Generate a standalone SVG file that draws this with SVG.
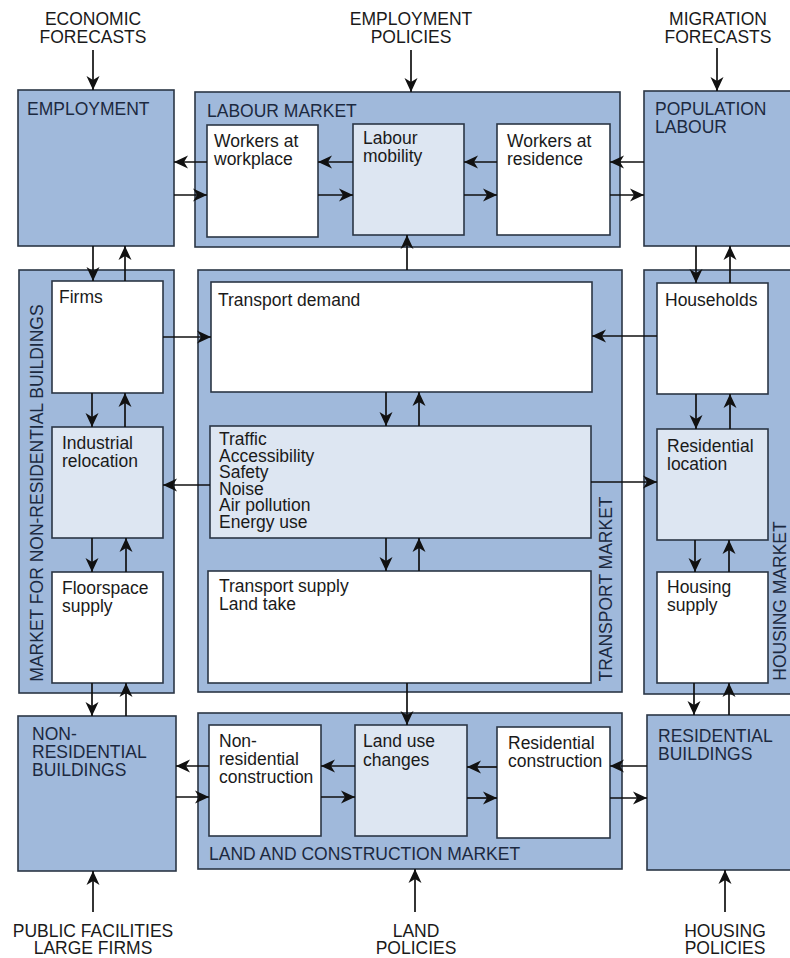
<svg xmlns="http://www.w3.org/2000/svg" width="790" height="958" viewBox="0 0 790 958">
<defs>
<marker id="ah" markerUnits="userSpaceOnUse" markerWidth="15" markerHeight="15" refX="14" refY="7" orient="auto">
<path d="M0,0.5 L14,7 L0,13.5 L4,7 z" fill="#111"/>
</marker>
<style>
.outer{fill:#a0b9db;stroke:#2b3645;stroke-width:1.6}
.white{fill:#ffffff;stroke:#2b3645;stroke-width:1.6}
.light{fill:#dde6f2;stroke:#2b3645;stroke-width:1.6}
text{font-family:"Liberation Sans",Arial,sans-serif;font-size:17.5px;fill:#1a1a1a}
.cap{fill:#1c2940}
.ext{fill:#1a1a1a}
.mid{text-anchor:middle}
.c line{stroke:#111;stroke-width:1.7;marker-end:url(#ah)}
</style>
</defs>
<rect width="790" height="958" fill="#ffffff"/>

<g id="economic-forecasts"><text class="ext mid" y="25"><tspan x="93">ECONOMIC</tspan><tspan x="93" dy="18">FORECASTS</tspan></text></g>
<g id="employment-policies"><text class="ext mid" y="25"><tspan x="411">EMPLOYMENT</tspan><tspan x="411" dy="18">POLICIES</tspan></text></g>
<g id="migration-forecasts"><text class="ext mid" y="25"><tspan x="718">MIGRATION</tspan><tspan x="718" dy="18">FORECASTS</tspan></text></g>

<g id="employment"><rect class="outer" x="18" y="90" width="156" height="156"/><text class="cap" x="27" y="115">EMPLOYMENT</text></g>
<g id="labour-market"><rect class="outer" x="195" y="92" width="425" height="155"/><text class="cap" x="207" y="117">LABOUR MARKET</text></g>
<g id="workers-at-workplace"><rect class="white" x="207" y="125" width="111" height="112"/><text y="147"><tspan x="214">Workers at</tspan><tspan x="214" dy="18">workplace</tspan></text></g>
<g id="labour-mobility"><rect class="light" x="353" y="124" width="111" height="111"/><text y="144"><tspan x="363">Labour</tspan><tspan x="363" dy="18">mobility</tspan></text></g>
<g id="workers-at-residence"><rect class="white" x="497" y="124" width="113" height="111"/><text y="147"><tspan x="507">Workers at</tspan><tspan x="507" dy="18">residence</tspan></text></g>
<g id="population-labour"><rect class="outer" x="644" y="91" width="150" height="155"/><text class="cap" y="115"><tspan x="655">POPULATION</tspan><tspan x="655" dy="18">LABOUR</tspan></text></g>

<g id="market-non-residential"><rect class="outer" x="19" y="270" width="155" height="423"/><text class="cap mid" transform="translate(43,493) rotate(-90)">MARKET FOR NON-RESIDENTIAL BUILDINGS</text></g>
<g id="firms"><rect class="white" x="52" y="281" width="111" height="112"/><text x="59" y="303">Firms</text></g>
<g id="industrial-relocation"><rect class="light" x="52" y="427" width="111" height="111"/><text y="449"><tspan x="62">Industrial</tspan><tspan x="62" dy="18">relocation</tspan></text></g>
<g id="floorspace-supply"><rect class="white" x="52" y="572" width="111" height="111"/><text y="594"><tspan x="62">Floorspace</tspan><tspan x="62" dy="18">supply</tspan></text></g>

<g id="transport-market"><rect class="outer" x="198" y="270" width="424" height="422"/><text class="cap mid" transform="translate(612,589) rotate(-90)">TRANSPORT MARKET</text></g>
<g id="transport-demand"><rect class="white" x="211" y="282" width="381" height="110"/><text x="218" y="306">Transport demand</text></g>
<g id="traffic"><rect class="light" x="210" y="426" width="381" height="112"/><text y="445"><tspan x="219">Traffic</tspan><tspan x="219" dy="16.5">Accessibility</tspan><tspan x="219" dy="16.5">Safety</tspan><tspan x="219" dy="16.5">Noise</tspan><tspan x="219" dy="16.5">Air pollution</tspan><tspan x="219" dy="16.5">Energy use</tspan></text></g>
<g id="transport-supply"><rect class="white" x="208" y="571" width="383" height="112"/><text y="592"><tspan x="219">Transport supply</tspan><tspan x="219" dy="18">Land take</tspan></text></g>

<g id="housing-market"><rect class="outer" x="644" y="270" width="150" height="424"/><text class="cap mid" transform="translate(786,601) rotate(-90)">HOUSING MARKET</text></g>
<g id="households"><rect class="white" x="657" y="283" width="111" height="111"/><text x="665" y="306">Households</text></g>
<g id="residential-location"><rect class="light" x="657" y="429" width="111" height="111"/><text y="452"><tspan x="667">Residential</tspan><tspan x="667" dy="18">location</tspan></text></g>
<g id="housing-supply"><rect class="white" x="657" y="572" width="111" height="111"/><text y="593"><tspan x="667">Housing</tspan><tspan x="667" dy="18">supply</tspan></text></g>

<g id="non-residential-buildings"><rect class="outer" x="18" y="716" width="158" height="155"/><text class="cap" y="740"><tspan x="32">NON-</tspan><tspan x="32" dy="18">RESIDENTIAL</tspan><tspan x="32" dy="18">BUILDINGS</tspan></text></g>
<g id="land-construction-market"><rect class="outer" x="198" y="713" width="424" height="156"/><text class="cap" x="209" y="860">LAND AND CONSTRUCTION MARKET</text></g>
<g id="non-residential-construction"><rect class="white" x="209" y="725" width="112" height="111"/><text y="747"><tspan x="219">Non-</tspan><tspan x="219" dy="18">residential</tspan><tspan x="219" dy="18">construction</tspan></text></g>
<g id="land-use-changes"><rect class="light" x="355" y="725" width="112" height="111"/><text y="747"><tspan x="363">Land use</tspan><tspan x="363" dy="19">changes</tspan></text></g>
<g id="residential-construction"><rect class="white" x="497" y="727" width="113" height="111"/><text y="749"><tspan x="508">Residential</tspan><tspan x="508" dy="18">construction</tspan></text></g>
<g id="residential-buildings"><rect class="outer" x="647" y="715" width="147" height="155"/><text class="cap" y="742"><tspan x="658">RESIDENTIAL</tspan><tspan x="658" dy="18">BUILDINGS</tspan></text></g>

<g id="public-facilities"><text class="ext mid" y="937"><tspan x="93">PUBLIC FACILITIES</tspan><tspan x="93" dy="17">LARGE FIRMS</tspan></text></g>
<g id="land-policies"><text class="ext mid" y="937"><tspan x="416">LAND</tspan><tspan x="416" dy="17">POLICIES</tspan></text></g>
<g id="housing-policies"><text class="ext mid" y="937"><tspan x="725">HOUSING</tspan><tspan x="725" dy="17">POLICIES</tspan></text></g>

<g id="connectors" class="c">
<line x1="93" y1="50" x2="93" y2="90"/>
<line x1="411" y1="50" x2="411" y2="92"/>
<line x1="717" y1="48" x2="717" y2="91"/>
<line x1="207" y1="162" x2="174" y2="162"/>
<line x1="174" y1="195" x2="207" y2="195"/>
<line x1="353" y1="162" x2="318" y2="162"/>
<line x1="318" y1="195" x2="353" y2="195"/>
<line x1="497" y1="162" x2="464" y2="162"/>
<line x1="464" y1="195" x2="497" y2="195"/>
<line x1="644" y1="162" x2="610" y2="162"/>
<line x1="610" y1="195" x2="644" y2="195"/>
<line x1="407" y1="270" x2="407" y2="235"/>
<line x1="93" y1="246" x2="93" y2="281"/>
<line x1="125" y1="281" x2="125" y2="246"/>
<line x1="92" y1="393" x2="92" y2="427"/>
<line x1="125" y1="427" x2="125" y2="393"/>
<line x1="92" y1="538" x2="92" y2="572"/>
<line x1="126" y1="572" x2="126" y2="538"/>
<line x1="92" y1="683" x2="92" y2="716"/>
<line x1="126" y1="716" x2="126" y2="683"/>
<line x1="163" y1="337" x2="211" y2="337"/>
<line x1="210" y1="485" x2="163" y2="485"/>
<line x1="386" y1="392" x2="386" y2="426"/>
<line x1="419" y1="426" x2="419" y2="392"/>
<line x1="386" y1="538" x2="386" y2="571"/>
<line x1="419" y1="571" x2="419" y2="538"/>
<line x1="657" y1="336" x2="592" y2="336"/>
<line x1="591" y1="482" x2="657" y2="482"/>
<line x1="696" y1="246" x2="696" y2="283"/>
<line x1="730" y1="283" x2="730" y2="246"/>
<line x1="696" y1="394" x2="696" y2="429"/>
<line x1="730" y1="429" x2="730" y2="394"/>
<line x1="695" y1="540" x2="695" y2="572"/>
<line x1="729" y1="572" x2="729" y2="540"/>
<line x1="694" y1="683" x2="694" y2="715"/>
<line x1="729" y1="715" x2="729" y2="683"/>
<line x1="407" y1="683" x2="407" y2="725"/>
<line x1="209" y1="766" x2="176" y2="766"/>
<line x1="176" y1="797" x2="209" y2="797"/>
<line x1="355" y1="766" x2="321" y2="766"/>
<line x1="321" y1="797" x2="355" y2="797"/>
<line x1="497" y1="767" x2="467" y2="767"/>
<line x1="467" y1="798" x2="497" y2="798"/>
<line x1="647" y1="766" x2="610" y2="766"/>
<line x1="610" y1="798" x2="647" y2="798"/>
<line x1="93" y1="912" x2="93" y2="871"/>
<line x1="415" y1="912" x2="415" y2="869"/>
<line x1="725" y1="912" x2="725" y2="870"/>
</g>
</svg>
